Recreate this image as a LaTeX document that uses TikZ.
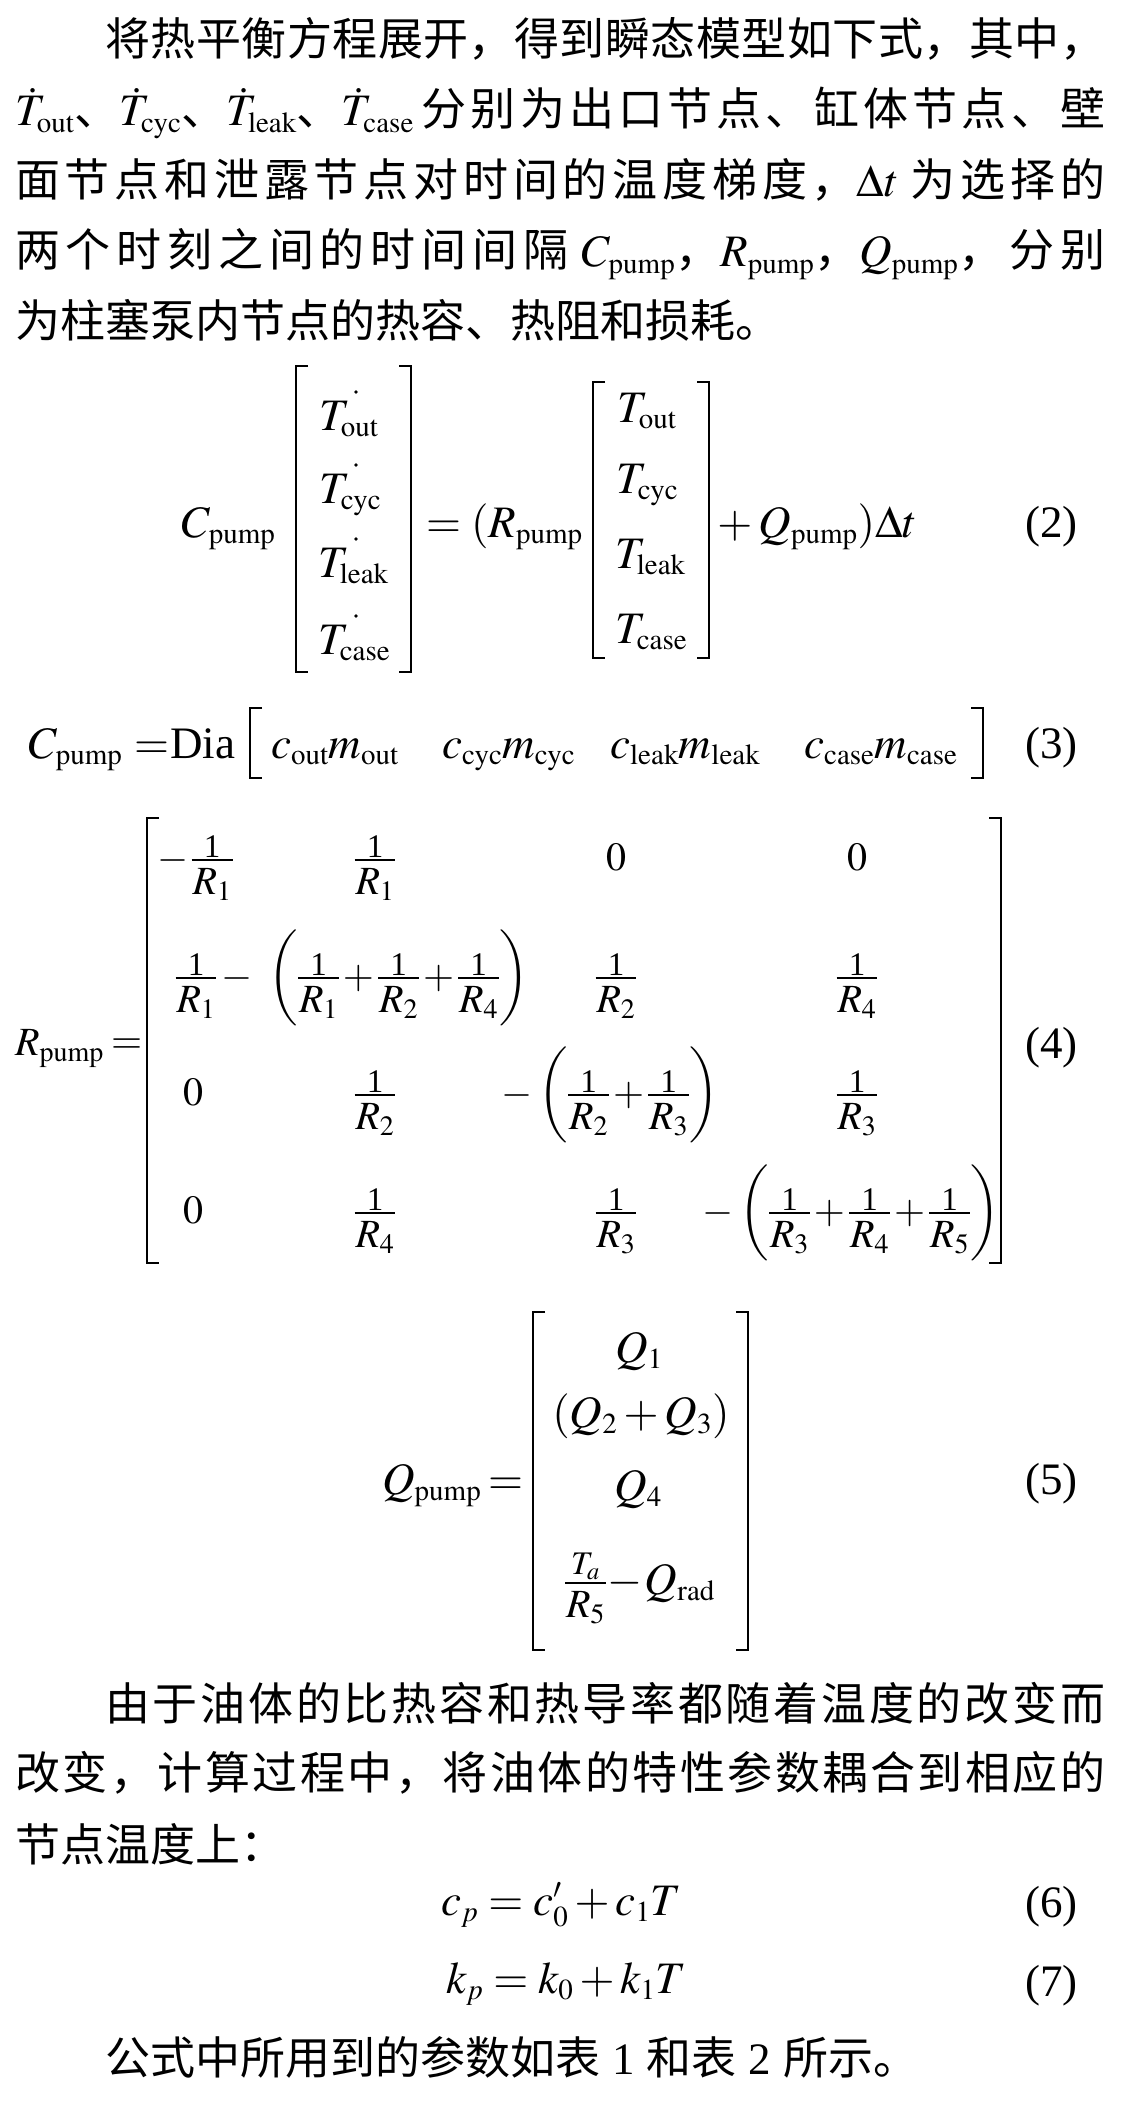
\documentclass[tikz,border=0pt]{standalone}
\usepackage{amsmath}
\usepackage{mathptmx}
\usepackage[no-math]{fontspec}
\setmainfont{Liberation Serif}
\newfontfamily\cjk{Noto Sans CJK SC}
\DeclareMathSizes{45}{45}{29}{22}
\DeclareMathSizes{40}{40}{28}{20}
\makeatletter
\def\jst@end{}
\def\jst#1{\jst@a#1\jst@end}
\def\jst@a#1{\ifx#1\jst@end\unskip\else#1\hskip0pt plus 10pt\relax\expandafter\jst@a\fi}
\makeatother
\newcommand\fr[2]{\mathord{\vcenter{\offinterlineskip\halign{\hfil##\hfil\cr
\vbox to 44pt{\vfil\hbox{\fontsize{33}{33}\selectfont #1}\kern2pt}\cr
\noalign{\hrule height 1.8pt}
\vbox to 44pt{\kern8pt\hbox{\fontsize{40}{54}\selectfont\kern1pt$#2$\kern1pt}\vfil}\cr}}}}
\newcommand\mn{\mathord{-}}
\newcommand\pl{\mathord{\kern4pt+\kern4pt}}
\newcommand\su[1]{_{\mathrm{#1}}}
\newcommand\lbrk[3]{\draw[brk] (#1+12,#2) -- (#1,#2) -- (#1,#3) -- (#1+12,#3);}
\newcommand\rbrk[3]{\draw[brk] (#1-12,#2) -- (#1,#2) -- (#1,#3) -- (#1-12,#3);}
\tikzset{
  cj/.style={anchor=base west, inner sep=0pt, font=\cjk\fontsize{45}{54}\selectfont},
  mth/.style={inner sep=0pt, font=\rmfamily\fontsize{45}{54}\selectfont},
  mfour/.style={inner sep=0pt, anchor=base, font=\rmfamily\fontsize{40}{54}\selectfont},
  eqn/.style={anchor=base east, inner sep=0pt, font=\rmfamily\fontsize{45}{54}\selectfont},
  brk/.style={line width=2.4pt, line cap=butt, line join=miter},
}
\begin{document}
\begin{tikzpicture}[x=1pt,y=-1pt]
\fill[white] (0,0) rectangle (1148,2118);
\useasboundingbox (0,0) rectangle (1148,2118);

% ---- paragraph 1
\node[cj] (p1) at (15,55) {\hbox to 1090pt{\hskip90pt\jst{将热平衡方程展开，得到瞬态模型如下式，其中，}}};
\node[cj] (p2) at (15,125.5) {\hbox to 1090pt{$\dot T\su{out}$、$\dot T\su{cyc}$、$\dot T\su{leak}$、$\dot T\su{case}$\hskip8pt\jst{分别为出口节点、缸体节点、壁}}};
\node[cj] (p3) at (15,196) {\hbox to 1090pt{\jst{面节点和泄露节点对时间的温度梯度，}$\Delta t$\hskip12pt\jst{为选择的}}};
\node[cj] (p4) at (15,266.5) {\hbox to 1090pt{\jst{两个时刻之间的时间间隔}\hskip14pt$C\su{pump}$，$R\su{pump}$，$Q\su{pump}$，\hskip6pt\jst{分别}}};
\node[cj] (p5) at (15,337) {为柱塞泵内节点的热容、热阻和损耗。};

% ---- equation (2)
\node[mth, anchor=base west] (e2c) at (182,537) {$C\su{pump}$};
\lbrk{296}{366}{672}
\rbrk{411}{366}{672}
\node[mth, anchor=base west] (e2a1) at (319,430) {$T\su{out}$};
\node[mth, anchor=base west] (e2a2) at (319,503) {$T\su{cyc}$};
\node[mth, anchor=base west] (e2a3) at (318,577) {$T\su{leak}$};
\node[mth, anchor=base west] (e2a4) at (318,654) {$T\su{case}$};
\fill (356,392) circle (1.8);
\fill (356,465) circle (1.8);
\fill (356,539) circle (1.8);
\fill (356,616) circle (1.8);
\node[mth, anchor=base west] (e2r) at (426,537) {$=(R\su{pump}$};
\lbrk{593}{382}{658}
\rbrk{709}{382}{658}
\node[mth, anchor=base west] (e2b1) at (617,422) {$T\su{out}$};
\node[mth, anchor=base west] (e2b2) at (616,493) {$T\su{cyc}$};
\node[mth, anchor=base west] (e2b3) at (615,568) {$T\su{leak}$};
\node[mth, anchor=base west] (e2b4) at (615,643) {$T\su{case}$};
\node[mth, anchor=base west] (e2q) at (711,537) {${}+Q\su{pump})\Delta t$};
\node[eqn] (n2) at (1078,537) {(2)};

% ---- equation (3)
\node[mth, anchor=base west] (e3c) at (29,758) {$C\su{pump}$};
\node[mth, anchor=base west] (e3e) at (134,758) {$=$};
\node[mth, anchor=base west] (e3d) at (170,758) {Dia};
\lbrk{250}{708}{778}
\rbrk{983}{708}{778}
\node[mth, anchor=base west] (e3a) at (271,758) {$c\su{out}m\su{out}$};
\node[mth, anchor=base west] (e3b) at (442,758) {$c\su{cyc}m\su{cyc}$};
\node[mth, anchor=base west] (e3cc) at (610,758) {$c\su{leak}m\su{leak}$};
\node[mth, anchor=base west] (e3dd) at (804,758) {$c\su{case}m\su{case}$};
\node[eqn] (n3) at (1078,758) {(3)};

% ---- equation (4)
\node[mfour, anchor=base west] (e4r) at (15,1055) {$R\su{pump}$};
\node[mfour, anchor=base west] (e4e) at (111,1053) {$=$};
\lbrk{147}{818}{1263}
\rbrk{1001}{818}{1263}
\node[mfour] (m11) at (195,870) {$\mn\kern3pt\fr1{R_1}$};
\node[mfour] (m12) at (375,870) {$\fr1{R_1}$};
\node[mfour] (m13) at (616,870) {$0$};
\node[mfour] (m14) at (857,870) {$0$};
\node[mfour] (m21) at (196,988) {$\fr1{R_1}$};
\node[mfour] (m22) at (375,988) {$\mn\kern16pt\biggl(\fr1{R_1}\pl\fr1{R_2}\pl\fr1{R_4}\biggr)$};
\node[mfour] (m23) at (616,988) {$\fr1{R_2}$};
\node[mfour] (m24) at (857,988) {$\fr1{R_4}$};
\node[mfour] (m31) at (193,1105) {$0$};
\node[mfour] (m32) at (375,1105) {$\fr1{R_2}$};
\node[mfour] (m33) at (610,1105) {$\mn\kern6pt\biggl(\fr1{R_2}\pl\fr1{R_3}\biggr)$};
\node[mfour] (m34) at (857,1105) {$\fr1{R_3}$};
\node[mfour] (m41) at (193,1223) {$0$};
\node[mfour] (m42) at (375,1223) {$\fr1{R_4}$};
\node[mfour] (m43) at (616,1223) {$\fr1{R_3}$};
\node[mfour] (m44) at (851,1223) {$\mn\kern6pt\biggl(\fr1{R_3}\pl\fr1{R_4}\pl\fr1{R_5}\biggr)$};
\node[eqn] (n4) at (1078,1058) {(4)};

% ---- equation (5)
\node[mth, anchor=base west] (e5q) at (382,1494) {$Q\su{pump}$};
\node[mth, anchor=base west] (e5e) at (488,1494) {$=$};
\lbrk{533}{1312}{1650}
\rbrk{748}{1312}{1650}
\node[mth, anchor=base] (q1) at (639,1362) {$Q_1$};
\node[mth, anchor=base] (q2) at (641,1427) {$(Q_2+Q_3)$};
\node[mth, anchor=base] (q3) at (638,1500) {$Q_4$};
\node[mth, anchor=base] (q4) at (640,1594) {$\fr{$T_a$}{R_5}\kern2pt\mn\kern2pt Q\su{rad}$};
\node[eqn] (n5) at (1078,1494) {(5)};

% ---- paragraph 2
\node[cj] (p6) at (15,1720) {\hbox to 1090pt{\hskip90pt\jst{由于油体的比热容和热导率都随着温度的改变而}}};
\node[cj] (p7) at (15,1789) {\hbox to 1090pt{\jst{改变，计算过程中，将油体的特性参数耦合到相应的}}};
\node[cj] (p8) at (15,1861) {节点温度上：};

% ---- equations (6), (7)
\node[mth, anchor=base west] (e6) at (441,1915) {$c_p=c'_0+c_1T$};
\node[eqn] (n6) at (1078,1917) {(6)};
\node[mth, anchor=base west] (e7) at (446,1993) {$k_p=k_0+k_1T$};
\node[eqn] (n7) at (1078,1996) {(7)};

\node[cj] (p9) at (105,2074) {公式中所用到的参数如表\hskip12pt{\rmfamily 1}\hskip12pt 和表\hskip12pt{\rmfamily 2}\hskip12pt 所示。};
\end{tikzpicture}
\end{document}
